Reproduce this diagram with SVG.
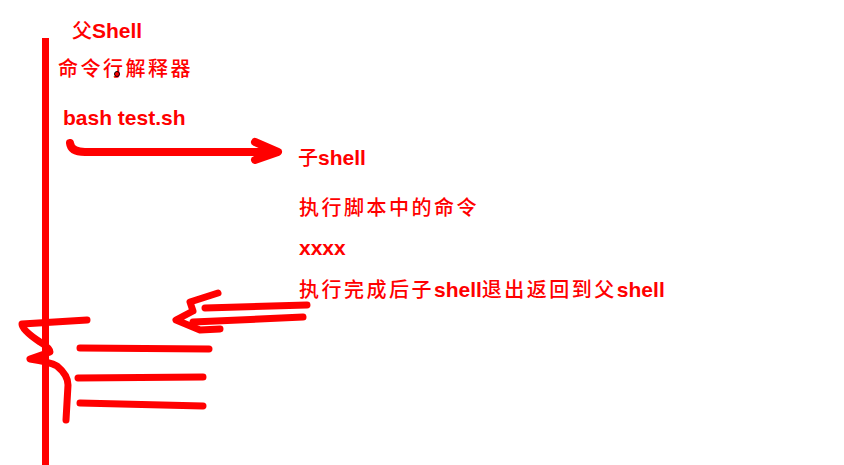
<svg xmlns="http://www.w3.org/2000/svg" width="844" height="465" viewBox="0 0 844 465">
<style>
.t{font-family:"Liberation Sans","Noto Sans CJK SC",sans-serif;font-weight:bold;font-size:21px;fill:#ff0000}
.c{font-weight:500;font-size:20px}
.s{fill:none;stroke:#ff0000;stroke-linecap:round;stroke-linejoin:round}
</style>
<rect width="844" height="465" fill="#ffffff"/>
<rect x="42" y="38" width="7" height="427" fill="#ff0000"/>
<text class="t" x="72" y="38"><tspan class="c">父</tspan>Shell</text>
<text class="t" x="58" y="76" letter-spacing="2.5"><tspan class="c">命令行解释器</tspan></text>
<circle cx="117" cy="74" r="2.5" fill="#ff0000" stroke="#000" stroke-width="1"/>
<text class="t" x="63" y="125">bash test.sh</text>
<text class="t" x="298" y="165"><tspan class="c">子</tspan>shell</text>
<text class="t" x="299" y="215" letter-spacing="2.5"><tspan class="c">执行脚本中的命令</tspan></text>
<text class="t" x="299" y="255">xxxx</text>
<text class="t" x="299" y="297"><tspan class="c" letter-spacing="2.5">执行完成后子</tspan>shell<tspan class="c" letter-spacing="2.5">退出返回到父</tspan>shell</text>
<g id="arrows">
<path class="s" stroke-width="8" d="M70,143 Q71,152 85,152 L270,152"/>
<path class="s" stroke-width="8" d="M255,142 L278,152 L255,160"/>
<path class="s" stroke-width="7" d="M307,305 L205,308"/>
<path class="s" stroke-width="7" d="M303,317 L193,322"/>
<path class="s" stroke-width="7" d="M218,293 L190,302 L193,311 L176,320 L200,330 L220,329"/>
</g>
<g id="marks">
<path class="s" stroke-width="7" d="M87,320 L22,324 Q22,330 40,342 Q50,348 50,352 L30,359 Q50,362 57,366 Q68,375 68,385 L66,420"/>
<path class="s" stroke-width="7" d="M80,348 L209,349"/>
<path class="s" stroke-width="7" d="M78,378 L203,377"/>
<path class="s" stroke-width="7" d="M80,403 L203,406"/>
</g>
</svg>
